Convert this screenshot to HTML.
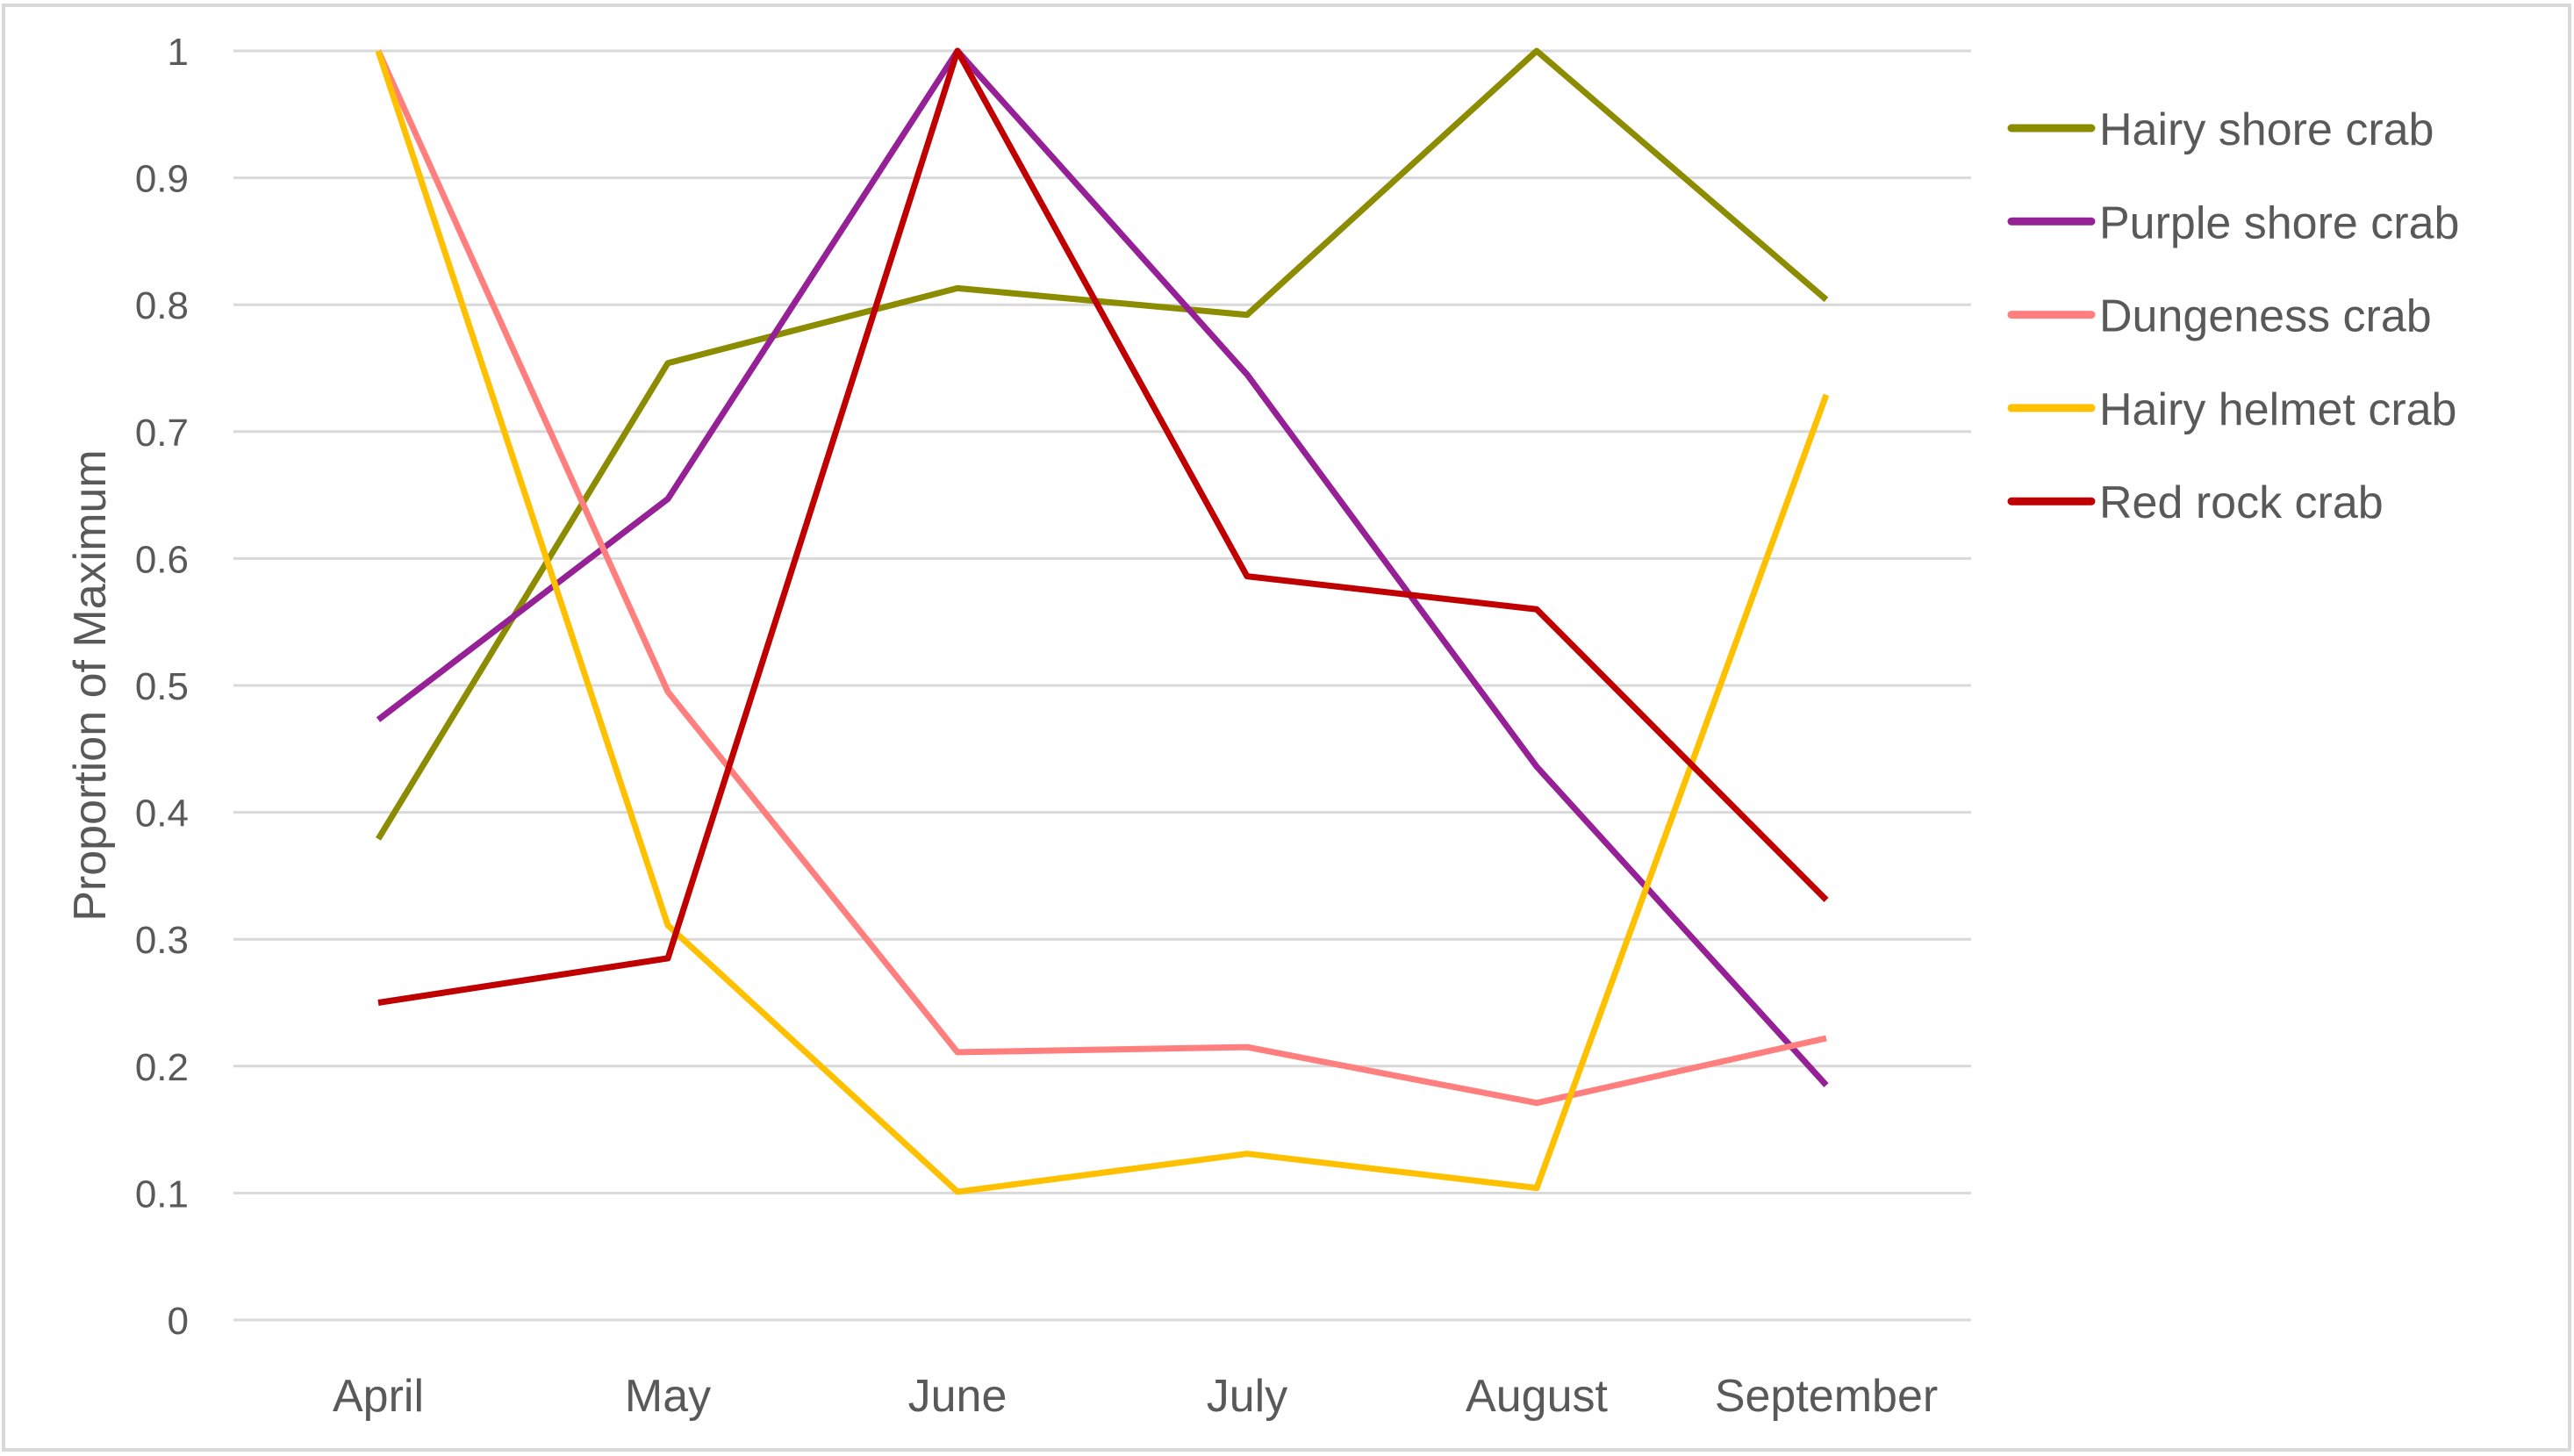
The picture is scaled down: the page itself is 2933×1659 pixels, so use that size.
<!DOCTYPE html>
<html><head><meta charset="utf-8"><style>
html,body{margin:0;padding:0;background:#fff;}
svg{display:block;font-family:"Liberation Sans",sans-serif;}
</style></head><body>
<svg id="chart" width="2933" height="1659" viewBox="0 0 2933 1659" xmlns="http://www.w3.org/2000/svg">
<rect x="4" y="6" width="2924" height="1646" fill="#fff" stroke="#d9d9d9" stroke-width="4"/>
<g id="grid"></g><g id="yticks"></g><g id="xticks"></g><g id="series"></g><g id="legend"></g>
<text x="0" y="0" transform="translate(120,781) rotate(-90)" text-anchor="middle" font-size="52" fill="#595959">Proportion of Maximum</text>
</svg>
<script>
const categories = ["April","May","June","July","August","September"];
const yTicks = [0,0.1,0.2,0.3,0.4,0.5,0.6,0.7,0.8,0.9,1];
const yTickLabels = ["0","0.1","0.2","0.3","0.4","0.5","0.6","0.7","0.8","0.9","1"];
const seriesNames = ["Hairy shore crab","Purple shore crab","Dungeness crab","Hairy helmet crab","Red rock crab"];
const seriesColors = ["#8c8c00","#962096","#ff7f7f","#ffc000","#c00000"];
const hairyShore = [0.379,0.754,0.813,0.792,1,0.804];
const purpleShore = [0.473,0.647,1,0.745,0.436,0.185];
const dungeness = [1,0.495,0.211,0.215,0.171,0.222];
const hairyHelmet = [1,0.311,0.101,0.131,0.104,0.729];
const redRock = [0.25,0.285,1,0.586,0.560,0.331];
const seriesValues = [hairyShore,purpleShore,dungeness,hairyHelmet,redRock];

const NS="http://www.w3.org/2000/svg";
const plotL=266, plotR=2246, y0=1504, y1=58;
const xFirst=431, xStep=330;
function xScale(i){return xFirst+i*xStep;}
function yScale(v){return y0-(y1>y0?0:(y0-y1))*v;}
function mk(tag,attrs,parent){const e=document.createElementNS(NS,tag);for(const k in attrs)e.setAttribute(k,attrs[k]);parent.appendChild(e);return e;}

const grid=document.getElementById('grid'), yt=document.getElementById('yticks'), xt=document.getElementById('xticks');
yTicks.forEach((v,i)=>{
  const l=mk('line',{x1:plotL,x2:plotR,y1:yScale(v),y2:yScale(v),stroke:'#d9d9d9','stroke-width':3},grid);
  
  
  const t=mk('text',{x:215,y:yScale(v)+16,'text-anchor':'end','font-size':44,fill:'#595959'},yt);
  t.textContent=yTickLabels[i];
  
  
});
categories.forEach((c,i)=>{
  const t=mk('text',{x:xScale(i),y:1608,'text-anchor':'middle','font-size':52,fill:'#595959'},xt);
  t.textContent=c;
  
  
});
const sg=document.getElementById('series'), lg=document.getElementById('legend');
seriesValues.forEach((vals,s)=>{
  const pts=vals.map((v,i)=>xScale(i)+','+yScale(v)).join(' ');
  const p=mk('polyline',{points:pts,fill:'none',stroke:seriesColors[s],'stroke-width':7,'stroke-linejoin':'round'},sg);
  
  
  const ly=146+s*106.3;
  const g=mk('g',{},lg);
  
  
  mk('line',{x1:2292,x2:2383,y1:ly,y2:ly,stroke:seriesColors[s],'stroke-width':9,'stroke-linecap':'round'},g);
  const t=mk('text',{x:2392,y:ly+19,'font-size':52,fill:'#595959'},g);
  t.textContent=seriesNames[s];
});
</script>
</body></html>
